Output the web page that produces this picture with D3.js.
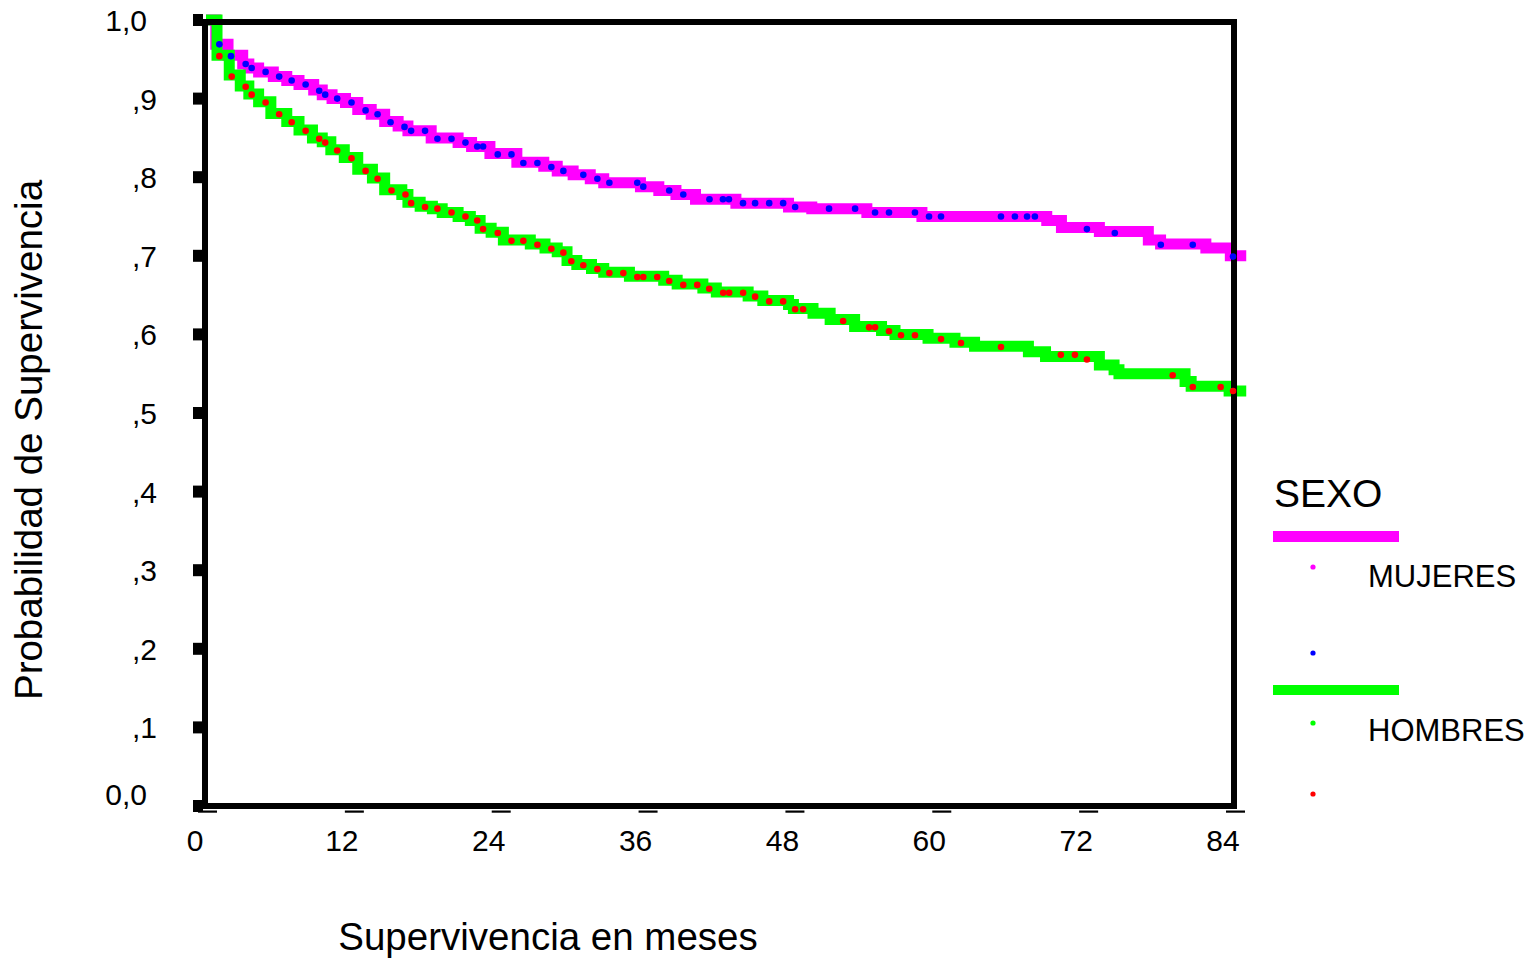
<!DOCTYPE html>
<html><head><meta charset="utf-8">
<script src="https://cdn.jsdelivr.net/npm/d3@7"></script>
<style>
body{margin:0;background:#fff}
svg{display:block;font-family:"Liberation Sans",Arial,sans-serif}
</style></head>
<body><svg id="chart" width="1537" height="959"></svg>
<script>
// ---- data ----
const xTicks = [0, 12, 24, 36, 48, 60, 72, 84];
const yTicks = [0, 0.1, 0.2, 0.3, 0.4, 0.5, 0.6, 0.7, 0.8, 0.9, 1.0];
const yTickLabels = ["0,0", ",1", ",2", ",3", ",4", ",5", ",6", ",7", ",8", ",9", "1,0"];
const seriesNames = ["MUJERES", "HOMBRES"];

// Kaplan-Meier steps [month, survival]
const mujeresSteps = [
  [0,1.0],[0.8,0.969],[1.8,0.955],[3.0,0.944],[3.5,0.939],[4.3,0.934],[5.5,0.928],[6.6,0.923],
  [7.6,0.918],[8.8,0.911],[9.5,0.905],[10.3,0.900],[11.4,0.895],[12.4,0.886],[13.5,0.880],
  [14.6,0.871],[15.7,0.865],[16.5,0.859],[18.4,0.850],[20.6,0.844],[21.7,0.839],[23.2,0.830],
  [25.4,0.819],[27.6,0.814],[28.7,0.808],[30.0,0.803],[31.4,0.798],[32.5,0.793],[35.5,0.788],
  [37.0,0.783],[38.4,0.778],[40.0,0.772],[43.3,0.767],[47.6,0.762],[49.5,0.760],[54.0,0.755],
  [58.5,0.750],[68.7,0.745],[69.9,0.736],[73.0,0.731],[77.0,0.720],[78.0,0.715],[81.7,0.710],
  [83.7,0.700],[85.0,0.700]
];
const hombresSteps = [
  [0,1.0],[0.9,0.955],[1.9,0.930],[2.8,0.916],[3.5,0.906],[4.3,0.896],[5.3,0.881],[6.6,0.871],
  [7.6,0.860],[8.7,0.850],[9.5,0.845],[10.2,0.835],[11.3,0.825],[12.4,0.810],[13.6,0.799],
  [14.6,0.784],[16.0,0.778],[16.5,0.768],[17.5,0.763],[18.5,0.760],[19.3,0.755],[20.6,0.750],
  [21.6,0.745],[22.4,0.735],[23.3,0.730],[24.3,0.720],[26.5,0.715],[27.7,0.710],[28.7,0.705],
  [29.5,0.694],[30.3,0.689],[31.5,0.684],[32.5,0.679],[34.6,0.674],[37.4,0.669],[38.5,0.664],
  [40.6,0.659],[41.7,0.654],[44.3,0.649],[45.5,0.643],[47.6,0.638],[48.0,0.633],[49.6,0.627],
  [51.0,0.619],[53.0,0.610],[55.2,0.605],[56.3,0.600],[59.0,0.595],[61.2,0.590],[62.8,0.585],
  [67.2,0.578],[68.6,0.572],[73.0,0.561],[74.2,0.555],[74.6,0.550],[80.0,0.540],[80.5,0.534],
  [83.6,0.528],[85.0,0.528]
];
// censored observations [month, survival]
const mujeresCensored = [
  [1.09,0.969],[2.04,0.954],[3.24,0.944],[3.73,0.939],[4.87,0.934],[5.98,0.928],[7.00,0.923],
  [8.14,0.918],[9.25,0.910],[9.74,0.905],[10.72,0.900],[11.89,0.895],[13.04,0.885],[14.02,0.880],
  [15.08,0.870],[16.22,0.864],[16.76,0.859],[17.90,0.859],[18.91,0.849],[20.06,0.849],[21.20,0.844],
  [22.16,0.839],[22.64,0.839],[23.84,0.829],[24.96,0.829],[25.93,0.818],[27.08,0.818],[28.22,0.813],
  [29.20,0.808],[30.83,0.803],[31.98,0.798],[32.96,0.793],[35.24,0.793],[35.73,0.788],[37.85,0.783],
  [39.00,0.778],[41.14,0.772],[42.24,0.772],[42.73,0.772],[43.88,0.767],[44.87,0.767],[46.02,0.767],
  [47.16,0.767],[48.14,0.762],[50.91,0.760],[53.04,0.760],[54.67,0.755],[55.81,0.755],[57.93,0.755],
  [59.08,0.750],[60.06,0.750],[64.96,0.750],[66.10,0.750],[67.09,0.750],[67.73,0.750],[71.98,0.734],
  [74.26,0.729],[78.02,0.714],[80.63,0.714],[83.92,0.699]
];
const hombresCensored = [
  [1.09,0.954],[2.10,0.928],[3.24,0.915],[3.73,0.905],[4.87,0.895],[5.98,0.880],[7.00,0.870],
  [8.14,0.859],[9.25,0.849],[9.74,0.844],[10.72,0.834],[11.89,0.824],[13.04,0.808],[14.02,0.798],
  [15.16,0.783],[16.30,0.778],[16.76,0.767],[17.90,0.762],[18.91,0.760],[20.06,0.755],[21.20,0.750],
  [22.16,0.745],[22.64,0.734],[23.84,0.729],[24.96,0.719],[25.93,0.719],[27.08,0.714],[28.22,0.709],
  [29.20,0.704],[29.85,0.693],[30.83,0.688],[31.98,0.683],[32.96,0.678],[34.10,0.678],[35.24,0.673],
  [35.73,0.673],[36.87,0.673],[37.85,0.668],[39.00,0.663],[40.14,0.663],[41.12,0.658],[42.26,0.653],
  [42.75,0.653],[43.89,0.653],[44.87,0.648],[46.02,0.642],[47.16,0.642],[48.14,0.632],[48.79,0.632],
  [52.06,0.617],[54.18,0.609],[54.67,0.609],[55.81,0.604],[56.79,0.599],[57.93,0.599],[60.06,0.594],
  [61.69,0.589],[64.96,0.584],[69.85,0.574],[71.00,0.574],[71.98,0.568],[78.99,0.548],[80.63,0.533],
  [82.91,0.533],[83.92,0.528]
];

// ---- layout ----
const svg = d3.select("#chart");
const x = d3.scaleLinear().domain([0, 84]).range([206, 1234]);
const y = d3.scaleLinear().domain([0, 1]).range([806, 20]);
const colors = {mujeres:"#ff00ff", hombres:"#00ff00", mujeresDot:"#0000ff", hombresDot:"#ff0000"};

const line = d3.line().x(d => x(d[0])).y(d => y(d[1])).curve(d3.curveStepAfter);

svg.append("path").datum(mujeresSteps).attr("d", line)
  .attr("fill","none").attr("stroke",colors.mujeres).attr("stroke-width",11)
  .attr("stroke-linejoin","miter");
svg.append("path").datum(hombresSteps).attr("d", line)
  .attr("fill","none").attr("stroke",colors.hombres).attr("stroke-width",11)
  .attr("stroke-linejoin","miter");

// frame
svg.append("rect").attr("x",205).attr("y",22).attr("width",1029).attr("height",784)
  .attr("fill","none").attr("stroke","#000").attr("stroke-width",6);

// y ticks
const yAxis = svg.append("g");
yAxis.selectAll("rect").data(yTicks).join("rect")
  .attr("x",193).attr("y",d => y(d)-6).attr("width",10).attr("height",12).attr("fill","#000");
yAxis.selectAll("text").data(yTicks).join("text")
  .attr("x",(d,i) => yTickLabels[i].length > 2 ? 147 : 157)
  .attr("y",d => d === 0 ? y(d) - 1 : y(d) + 11)
  .attr("text-anchor","end").attr("font-size",30).attr("fill","#000")
  .text((d,i) => yTickLabels[i]);

// x ticks
const xAxis = svg.append("g");
xAxis.selectAll("rect").data(xTicks).join("rect")
  .attr("x",d => x(d)-8).attr("y",810.5).attr("width",19).attr("height",2.2).attr("fill","#000");
xAxis.selectAll("text").data(xTicks).join("text")
  .attr("x",d => x(d)-11).attr("y",851)
  .attr("text-anchor","middle").attr("font-size",30).attr("fill","#000")
  .text(d => d);

// censor dots
svg.append("g").selectAll("circle").data(mujeresCensored).join("circle")
  .attr("cx",d => x(d[0])).attr("cy",d => y(d[1])).attr("r",3.3).attr("fill",colors.mujeresDot);
svg.append("g").selectAll("circle").data(hombresCensored).join("circle")
  .attr("cx",d => x(d[0])).attr("cy",d => y(d[1])).attr("r",3.3).attr("fill",colors.hombresDot);

// axis titles
svg.append("text").attr("x",548).attr("y",950).attr("text-anchor","middle")
  .attr("font-size",38.5).attr("fill","#000").text("Supervivencia en meses");
svg.append("text").attr("transform","translate(42,440) rotate(-90)").attr("text-anchor","middle")
  .attr("font-size",38.5).attr("fill","#000").text("Probabilidad de Supervivencia");

// legend
const lg = svg.append("g");
lg.append("text").attr("x",1274).attr("y",507).attr("font-size",39).attr("fill","#000").text("SEXO");
const legendLayout = [
  {top:531, h:11, line:colors.mujeres, dot:colors.mujeresDot, dotDy:36, censDy:122},
  {top:685, h:10, line:colors.hombres, dot:colors.hombresDot, dotDy:38, censDy:109}
];
seriesNames.forEach((name, i) => {
  const L = legendLayout[i];
  lg.append("rect").attr("x",1273).attr("y",L.top).attr("width",126).attr("height",L.h).attr("fill",L.line);
  lg.append("circle").attr("cx",1313).attr("cy",L.top+L.dotDy).attr("r",2.6).attr("fill",L.line);
  lg.append("text").attr("x",1368).attr("y",L.top+56).attr("font-size",31).attr("fill","#000").text(name);
  lg.append("circle").attr("cx",1313).attr("cy",L.top+L.censDy).attr("r",2.6).attr("fill",L.dot);
});
</script>
</body></html>
